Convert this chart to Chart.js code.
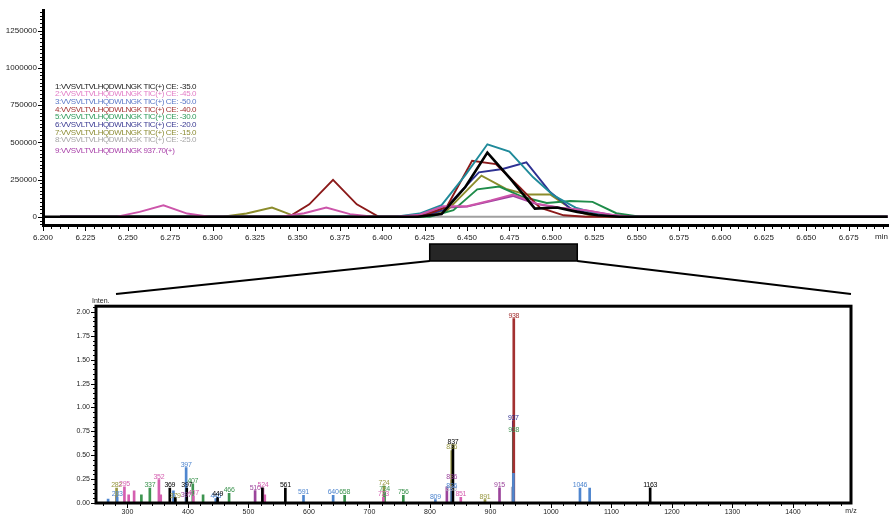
<!DOCTYPE html>
<html>
<head>
<meta charset="utf-8">
<script src="https://cdn.jsdelivr.net/npm/chart.js@4.4.1/dist/chart.umd.min.js"></script>
<style>
  html, body { margin: 0; padding: 0; background: #fff; }
  #wrap { position: relative; width: 889px; height: 514px; overflow: hidden; }
  #top { position: absolute; left: 0; top: 0; }
  #bot { position: absolute; left: 0; top: 296px; }
</style>
</head>
<body>
<div id="wrap">
  <canvas id="top" width="889" height="296"></canvas>
  <canvas id="bot" width="889" height="218"></canvas>
</div>
<script>
// chromatogram traces (time in min, intensity)
const names = [
  '1:VVSVLTVLHQDWLNGK TIC(+) CE: -35.0',
  '2:VVSVLTVLHQDWLNGK TIC(+) CE: -45.0',
  '3:VVSVLTVLHQDWLNGK TIC(+) CE: -50.0',
  '4:VVSVLTVLHQDWLNGK TIC(+) CE: -40.0',
  '5:VVSVLTVLHQDWLNGK TIC(+) CE: -30.0',
  '6:VVSVLTVLHQDWLNGK TIC(+) CE: -20.0',
  '7:VVSVLTVLHQDWLNGK TIC(+) CE: -15.0',
  '8:VVSVLTVLHQDWLNGK TIC(+) CE: -25.0',
  '9:VVSVLTVLHQDWLNGK 937.70(+)'
];
const t1 = [6.200, 6.421, 6.435, 6.449, 6.462, 6.476, 6.490, 6.503, 6.515, 6.527, 6.540, 6.698];
const v1 = [0, 0, 18000, 200000, 431000, 250000, 55000, 62000, 33000, 10000, 0, 0];
const t2 = [6.210, 6.243, 6.257, 6.271, 6.285, 6.298, 6.340, 6.354, 6.367, 6.381, 6.395, 6.408, 6.422, 6.436, 6.450, 6.464, 6.477, 6.491, 6.505, 6.520, 6.534, 6.548, 6.698];
const v2 = [0, 0, 33000, 77000, 22000, 0, 0, 24000, 62000, 18000, 0, 0, 15000, 71000, 71000, 110000, 150000, 88000, 62000, 44000, 15000, 0, 0];
const t3 = [6.210, 6.408, 6.422, 6.435, 6.449, 6.462, 6.475, 6.489, 6.501, 6.514, 6.526, 6.538, 6.552, 6.698];
const v3 = [0, 0, 22000, 78000, 280000, 487000, 438000, 265000, 144000, 62000, 22000, 5000, 0, 0];
const t4 = [6.210, 6.345, 6.357, 6.371, 6.385, 6.398, 6.412, 6.425, 6.438, 6.453, 6.467, 6.481, 6.493, 6.507, 6.520, 6.698];
const v4 = [0, 0, 84000, 248000, 84000, 0, 0, 10000, 66000, 376000, 354000, 199000, 62000, 10000, 0, 0];
const t5 = [6.210, 6.428, 6.442, 6.456, 6.469, 6.483, 6.497, 6.511, 6.524, 6.538, 6.552, 6.698];
const v5 = [0, 0, 44000, 184000, 203000, 133000, 93000, 106000, 100000, 24000, 0, 0];
const t6 = [6.210, 6.422, 6.436, 6.457, 6.471, 6.485, 6.499, 6.511, 6.524, 6.538, 6.698];
const v6 = [0, 0, 44000, 298000, 321000, 365000, 166000, 56000, 15000, 0, 0];
const t7 = [6.210, 6.306, 6.320, 6.335, 6.346, 6.359, 6.424, 6.438, 6.4585, 6.473, 6.485, 6.499, 6.5125, 6.524, 6.538, 6.698];
const v7 = [0, 0, 22000, 62000, 15000, 0, 0, 40000, 276000, 188000, 150000, 150000, 44000, 5000, 0, 0];
const t8 = [6.210, 6.698];
const v8 = [0, 0];
const t9 = [6.210, 6.420, 6.436, 6.450, 6.477, 6.491, 6.505, 6.522, 6.536, 6.550, 6.698];
const v9 = [0, 0, 60000, 68000, 140000, 85000, 60000, 40000, 12000, 0, 0];
const zoomRange = [6.428, 6.515];
const topXTicks = [6.200, 6.225, 6.250, 6.275, 6.300, 6.325, 6.350, 6.375, 6.400, 6.425, 6.450, 6.475, 6.500, 6.525, 6.550, 6.575, 6.600, 6.625, 6.650, 6.675];
const topYTicks = [0, 250000, 500000, 750000, 1000000, 1250000];

// mass spectrum sticks (m/z, intensity x1e6, peak label)
const mzK = [370, 379, 398, 449, 523, 561, 838, 1164];
const inK = [0.155, 0.06, 0.155, 0.06, 0.16, 0.155, 0.61, 0.16];
const lbK = ['369', '', '397', '449', '', '561', '837', '1163'];
const mzP = [295, 302, 311, 352, 355, 409, 524, 527, 723, 851];
const inP = [0.17, 0.086, 0.128, 0.245, 0.086, 0.076, 0.155, 0.086, 0.06, 0.06];
const lbP = ['295', '', '', '352', '', '407', '524', '', '723', '851'];
const mzB = [268, 283, 376, 397, 446, 591, 640, 809, 836, 938, 1048, 1064];
const inB = [0.04, 0.065, 0.128, 0.37, 0.045, 0.08, 0.08, 0.035, 0.15, 0.31, 0.155, 0.155];
const lbB = ['', '283', '', '397', '446', '591', '640', '809', '836', '', '1046', ''];
const mzR = [938.6];
const inR = [1.93];
const lbR = ['938'];
const mzG = [323, 337, 408, 425, 468, 659, 725, 756, 938.3];
const inG = [0.086, 0.155, 0.2, 0.086, 0.1, 0.08, 0.113, 0.08, 0.735];
const lbG = ['', '337', '407', '', '466', '658', '724', '756', '938'];
const mzN = [937.8];
const inN = [0.86];
const lbN = ['937'];
const mzO = [282, 379, 724, 836, 891];
const inO = [0.155, 0.04, 0.18, 0.55, 0.035];
const lbO = ['282', '379', '724', '836', '891'];
const mzGr = [835, 936];
const inGr = [0.11, 0.166];
const lbGr = ['835', ''];
const mzM = [282, 397, 511, 828, 836, 915];
const inM = [0.08, 0.055, 0.13, 0.17, 0.24, 0.16];
const lbM = ['', '397', '510', '', '836', '915'];
const botXTicks = [300, 400, 500, 600, 700, 800, 900, 1000, 1100, 1200, 1300, 1400];
const botYTicks = [0, 0.25, 0.5, 0.75, 1.0, 1.25, 1.5, 1.75, 2.0];

const lineColors = ['#000000', '#cc55aa', '#1f8a9a', '#8b1a1a', '#1f8c4a', '#2e3192', '#8c8c2c', '#a0a0a0', '#a040a0'];
const textColors = ['#222222', '#e27cc6', '#5b78c8', '#a33030', '#2e9a5a', '#3a3a92', '#8c8c34', '#a6a6a6', '#a83ea8'];
const stickColors = ['#000000', '#d55fb0', '#4f86cf', '#a33030', '#3d9450', '#2c2c8e', '#999944', '#b4b4c8', '#9b449b'];

const FONT = '"Liberation Sans", Arial, sans-serif';
const pts = (t, v) => t.map((x, i) => ({ x: x, y: v[i] }));
const fixTicks = arr => s => { s.ticks = arr.map(v => ({ value: v })); };

const traces = [[t1, v1], [t2, v2], [t3, v3], [t4, v4], [t5, v5], [t6, v6], [t7, v7], [t8, v8], [t9, v9]];

const topDecor = {
  id: 'topDecor',
  afterDraw(chart) {
    const { ctx, chartArea: a, scales: { x, y } } = chart;
    ctx.save();
    ctx.strokeStyle = '#000';
    ctx.lineWidth = 1;
    // minor/major ticks on x
    for (let k = 0; ; k++) {
      const v = 6.2 + k * 0.005;
      if (v > x.max + 1e-9) break;
      const px = Math.round(x.getPixelForValue(v)) + 0.5;
      const len = k % 5 === 0 ? 5 : 3;
      ctx.beginPath(); ctx.moveTo(px, a.bottom + 1); ctx.lineTo(px, a.bottom + 1 + len); ctx.stroke();
    }
    // ticks on y
    for (let k = -2; ; k++) {
      const v = k * 25000;
      if (v > y.max) break;
      if (v < y.min) continue;
      const py = Math.round(y.getPixelForValue(v)) + 0.5;
      const len = k % 10 === 0 ? 4 : 2;
      ctx.beginPath(); ctx.moveTo(a.left - 1, py); ctx.lineTo(a.left - 1 - len, py); ctx.stroke();
    }
    // axis unit
    ctx.fillStyle = '#222';
    ctx.font = '8px ' + FONT;
    ctx.textAlign = 'right';
    ctx.textBaseline = 'middle';
    ctx.fillText('min', chart.width - 1, a.bottom + 12);
    // legend text, fitted to the width seen in the reference
    ctx.textAlign = 'left';
    ctx.font = '8px ' + FONT;
    const w = ctx.measureText(names[0]).width;
    const sp = Math.min(0, (141 - w) / names[0].length);
    ctx.letterSpacing = sp.toFixed(2) + 'px';
    names.forEach((n, i) => {
      ctx.fillStyle = textColors[i];
      const yy = a.top + 75.5 + i * 7.7 + (i === 8 ? 3 : 0);
      ctx.fillText(n, a.left + 12, yy);
    });
    ctx.letterSpacing = '0px';
    // zoom marker and connector
    const x0 = x.getPixelForValue(zoomRange[0]);
    const x1 = x.getPixelForValue(zoomRange[1]);
    ctx.fillStyle = '#262626';
    ctx.fillRect(x0, 244, x1 - x0, 17);
    ctx.strokeStyle = '#000';
    ctx.lineWidth = 1.5;
    ctx.strokeRect(x0, 244, x1 - x0, 17);
    ctx.lineWidth = 2;
    ctx.beginPath();
    ctx.moveTo(x0, 261); ctx.lineTo(116, 294);
    ctx.moveTo(x1, 261); ctx.lineTo(851, 294);
    ctx.stroke();
    ctx.restore();
  }
};

new Chart(document.getElementById('top'), {
  type: 'line',
  data: {
    datasets: traces.map((tv, i) => ({
      label: names[i],
      data: pts(tv[0], tv[1]),
      borderColor: lineColors[i],
      borderWidth: i === 0 ? 2.6 : 1.9,
      pointRadius: 0,
      tension: 0,
      fill: false
    }))
  },
  options: {
    responsive: false,
    animation: false,
    layout: { padding: { top: 8, right: 1, bottom: 51, left: 0 } },
    plugins: { legend: { display: false }, tooltip: { enabled: false } },
    scales: {
      x: {
        type: 'linear',
        min: 6.2,
        max: 6.6982,
        grid: { display: false, drawTicks: false },
        border: { display: true, color: '#000', width: 3 },
        afterFit: s => { s.height = 20; },
        afterBuildTicks: fixTicks(topXTicks),
        ticks: {
          maxRotation: 0,
          autoSkip: false,
          padding: 8,
          color: '#222',
          font: { family: FONT, size: 8 },
          callback: v => Number(v).toFixed(3)
        }
      },
      y: {
        min: -55000,
        max: 1383000,
        grid: { display: false, drawTicks: false },
        border: { display: true, color: '#000', width: 3 },
        afterFit: s => { s.width = 43; },
        afterBuildTicks: fixTicks(topYTicks),
        ticks: {
          padding: 6,
          color: '#222',
          font: { family: FONT, size: 8 },
          callback: v => String(v)
        }
      }
    }
  },
  plugins: [topDecor]
});

const spectra = [
  [mzK, inK, lbK], [mzP, inP, lbP], [mzB, inB, lbB], [mzR, inR, lbR], [mzG, inG, lbG],
  [mzN, inN, lbN], [mzO, inO, lbO], [mzGr, inGr, lbGr], [mzM, inM, lbM]
];

const botDecor = {
  id: 'botDecor',
  afterDatasetsDraw(chart) {
    const { ctx, scales: { x, y } } = chart;
    ctx.save();
    ctx.font = '7px ' + FONT;
    ctx.letterSpacing = '-0.3px';
    ctx.textAlign = 'center';
    ctx.textBaseline = 'alphabetic';
    for (let d = spectra.length - 1; d >= 0; d--) {
      const [mz, it, lb] = spectra[d];
      ctx.fillStyle = stickColors[d];
      mz.forEach((m, i) => {
        if (!lb[i]) return;
        ctx.fillText(lb[i], x.getPixelForValue(m), y.getPixelForValue(it[i]) - 1);
      });
    }
    ctx.restore();
  },
  afterDraw(chart) {
    const { ctx, chartArea: a, scales: { x, y } } = chart;
    ctx.save();
    ctx.strokeStyle = '#000';
    ctx.lineWidth = 3;
    ctx.strokeRect(a.left, a.top, a.right - a.left, a.bottom - a.top);
    ctx.lineWidth = 1;
    for (let v = 260; v <= x.max; v += 20) {
      const px = Math.round(x.getPixelForValue(v)) + 0.5;
      const len = v % 100 === 0 ? 4 : 2;
      ctx.beginPath(); ctx.moveTo(px, a.bottom + 1); ctx.lineTo(px, a.bottom + 1 + len); ctx.stroke();
    }
    for (let k = 0; ; k++) {
      const v = k * 0.05;
      if (v > y.max) break;
      const py = Math.round(y.getPixelForValue(v)) + 0.5;
      const len = k % 5 === 0 ? 4 : 2;
      ctx.beginPath(); ctx.moveTo(a.left - 1, py); ctx.lineTo(a.left - 1 - len, py); ctx.stroke();
    }
    ctx.fillStyle = '#222';
    ctx.font = '7px ' + FONT;
    ctx.textAlign = 'center';
    ctx.textBaseline = 'middle';
    ctx.fillText('m/z', a.right, a.bottom + 8);
    ctx.textAlign = 'left';
    ctx.fillText('Inten.', a.left - 4, a.top - 5);
    ctx.restore();
  }
};

new Chart(document.getElementById('bot'), {
  type: 'bar',
  data: {
    datasets: spectra.map((s, i) => ({
      data: pts(s[0], s[1]),
      backgroundColor: stickColors[i],
      borderWidth: 0,
      barThickness: 2,
      grouped: false
    }))
  },
  options: {
    responsive: false,
    animation: false,
    layout: { padding: { top: 9, right: 38, bottom: 0, left: 0 } },
    plugins: { legend: { display: false }, tooltip: { enabled: false } },
    scales: {
      x: {
        type: 'linear',
        offset: false,
        min: 248,
        max: 1496,
        grid: { display: false, drawTicks: false, offset: false },
        border: { display: false },
        afterFit: s => { s.height = 11; },
        afterBuildTicks: fixTicks(botXTicks),
        ticks: {
          maxRotation: 0,
          autoSkip: false,
          padding: 5,
          color: '#222',
          font: { family: FONT, size: 7 },
          callback: v => String(v)
        }
      },
      y: {
        min: 0,
        max: 2.06,
        grid: { display: false, drawTicks: false },
        border: { display: false },
        afterFit: s => { s.width = 96; },
        afterBuildTicks: fixTicks(botYTicks),
        ticks: {
          padding: 6,
          color: '#222',
          font: { family: FONT, size: 7 },
          callback: v => Number(v).toFixed(2)
        }
      }
    }
  },
  plugins: [botDecor]
});
</script>
</body>
</html>
